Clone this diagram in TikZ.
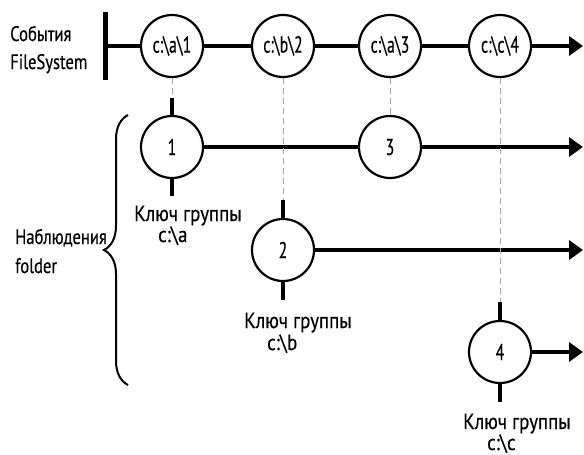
\documentclass[tikz,border=0pt]{standalone}
\usepackage{fontspec}
\setmainfont{PT Sans}[FakeStretch=0.79,FakeBold=0.4]
\newfontfamily\circfont{PT Sans}[FakeStretch=0.68,FakeBold=0.4]
\newfontfamily\keyfont{PT Sans}[FakeStretch=0.86,FakeBold=0.4]
\usetikzlibrary{arrows.meta,decorations.pathreplacing}
\begin{document}
\begin{tikzpicture}[x=1pt,y=-1pt,
 ev/.style={circle,draw,line width=2.2pt,fill=white,minimum size=62pt,inner sep=0pt,font=\circfont\fontsize{23}{25}\selectfont},
 arr/.style={line width=4pt,-{Triangle[length=14pt,width=19pt]}},
 stub/.style={line width=4.5pt},
 dsh/.style={black!35,line width=0.8pt,dash pattern=on 6pt off 4pt},
 lbl/.style={font=\keyfont\fontsize{22}{24}\selectfont,anchor=base west,inner sep=0pt},
 side/.style={font=\fontsize{21}{23}\selectfont,anchor=base west,inner sep=0pt}]
\useasboundingbox (0,0) rectangle (584,455);
% timeline
\coordinate (bt) at (105,12);
\coordinate (bb) at (105,80);
\coordinate (tst) at (105,46);
\coordinate (tend) at (583,46);
\draw[line width=5pt] (bt) -- (bb);
\draw[arr] (tst) -- (tend);
\node[ev] (e1) at (172,46) {c:\textbackslash a\textbackslash 1};
\node[ev] (e2) at (283,46) {c:\textbackslash b\textbackslash 2};
\node[ev] (e3) at (390,46) {c:\textbackslash a\textbackslash 3};
\node[ev] (e4) at (500,46) {c:\textbackslash c\textbackslash 4};
\node[side] (fs1) at (10,41) {События};
\node[side] (fs2) at (10,69) {FileSystem};
% group nodes positions
\coordinate (g1c) at (172,147);
\coordinate (g2c) at (283,250);
\coordinate (g3c) at (390,147);
\coordinate (g4c) at (500,352);
% arrows of groups
\coordinate (a1) at (583,147);
\coordinate (a2) at (583,250);
\coordinate (a4) at (583,352);
\draw[arr] (g1c) -- (a1);
\draw[arr] (g2c) -- (a2);
\draw[arr] (g4c) -- (a4);
% stubs
\coordinate (s1t) at (172,98);
\coordinate (s1b) at (172,196);
\coordinate (s2t) at (283,200);
\coordinate (s2b) at (283,300);
\coordinate (s4t) at (500,302);
\coordinate (s4b) at (500,402);
\draw[stub] (s1t) -- (s1b);
\draw[stub] (s2t) -- (s2b);
\draw[stub] (s4t) -- (s4b);
% dashed
\draw[dsh] (e1.south) -- (s1t);
\draw[dsh] (e2.south) -- (s2t);
\draw[dsh] (e3.south) -- (g3c);
\draw[dsh] (e4.south) -- (s4t);
\node[ev] (g1) at (g1c) {1};
\node[ev] (g2) at (g2c) {2};
\node[ev] (g3) at (g3c) {3};
\node[ev] (g4) at (g4c) {4};
% labels
\node[lbl] (k1a) at (134,221) {Ключ группы};
\node[lbl] (k1b) at (158,242) {c:\textbackslash a};
\node[lbl] (k2a) at (244,328) {Ключ группы};
\node[lbl] (k2b) at (267,350) {c:\textbackslash b};
\node[lbl] (k4a) at (463,429) {Ключ группы};
\node[lbl] (k4b) at (487,450) {c:\textbackslash c};
% brace
\coordinate (br1) at (128,385);
\coordinate (br2) at (128,115);
\draw[line width=2pt,decorate,decoration={brace,amplitude=24pt}] (br1) -- (br2);
\node[side] (obs1) at (15,244) {Наблюдения};
\node[side] (obs2) at (15,273) {folder};
\end{tikzpicture}
\end{document}
